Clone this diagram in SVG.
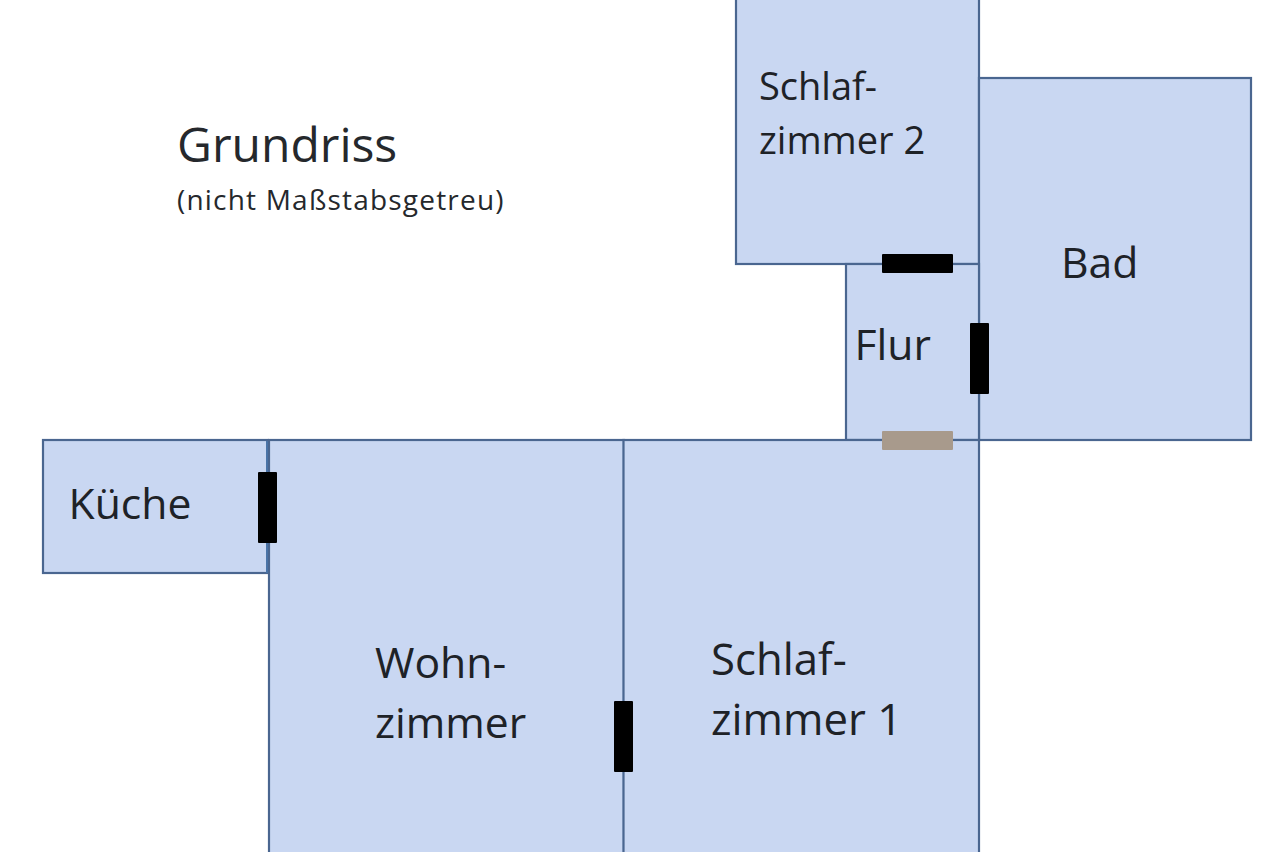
<svg xmlns="http://www.w3.org/2000/svg" width="1280" height="852" viewBox="0 0 1280 852">
<style>
.r{fill:#c9d7f2;stroke:#4a6690;stroke-width:2.2}
.t{font-family:"Open Sans","Noto Sans",sans-serif;font-size:42.7px;fill:#1e2227}
.s{font-size:38px}
.d{fill:#000}
.g{font-family:"Open Sans","Noto Sans",sans-serif;fill:#25282c}
</style>
<rect width="1280" height="852" fill="#fff"/>
<g id="schlaf2"><rect class="r" x="736" y="-10" width="243" height="274"/><text class="t s" x="759" y="100">Schlaf-</text><text class="t s" x="759" y="154">zimmer 2</text></g>
<g id="bad"><rect class="r" x="979" y="78" width="272" height="362"/><text class="t" x="1061" y="278">Bad</text></g>
<g id="flur"><rect class="r" x="846" y="264" width="133" height="176"/><text class="t" x="854.500" y="360">Flur</text></g>
<g id="kueche"><rect class="r" x="43" y="440" width="225" height="133"/><path d="M267.500 441V573" stroke="#4a74a8" stroke-width="3" fill="none"/><text class="t" x="68.500" y="519">Küche</text></g>
<g id="wohn"><rect class="r" x="269" y="440" width="355" height="430"/><text class="t" x="375" y="678">Wohn-</text><text class="t" x="375" y="738">zimmer</text></g>
<g id="schlaf1"><rect class="r" x="623.500" y="440" width="355.500" height="430"/><text class="t" x="711" y="675" style="font-size:43.7px">Schlaf-</text><text class="t" x="711" y="735" style="font-size:43.7px">zimmer 1</text></g>
<g id="doors">
<rect class="d" x="882" y="254" width="71" height="19" rx="1"/>
<rect class="d" x="970" y="323" width="19" height="71" rx="1"/>
<rect x="882" y="431" width="71" height="19" rx="1" fill="#a89a8c"/>
<rect class="d" x="258" y="472" width="19" height="71" rx="1"/>
<rect class="d" x="614" y="701" width="19" height="71" rx="1"/>
</g>
<g id="title"><text class="g" x="177" y="162" font-size="48">Grundriss</text><text class="g" x="177" y="210" font-size="28" letter-spacing="1.2">(nicht Maßstabsgetreu)</text></g>
</svg>
